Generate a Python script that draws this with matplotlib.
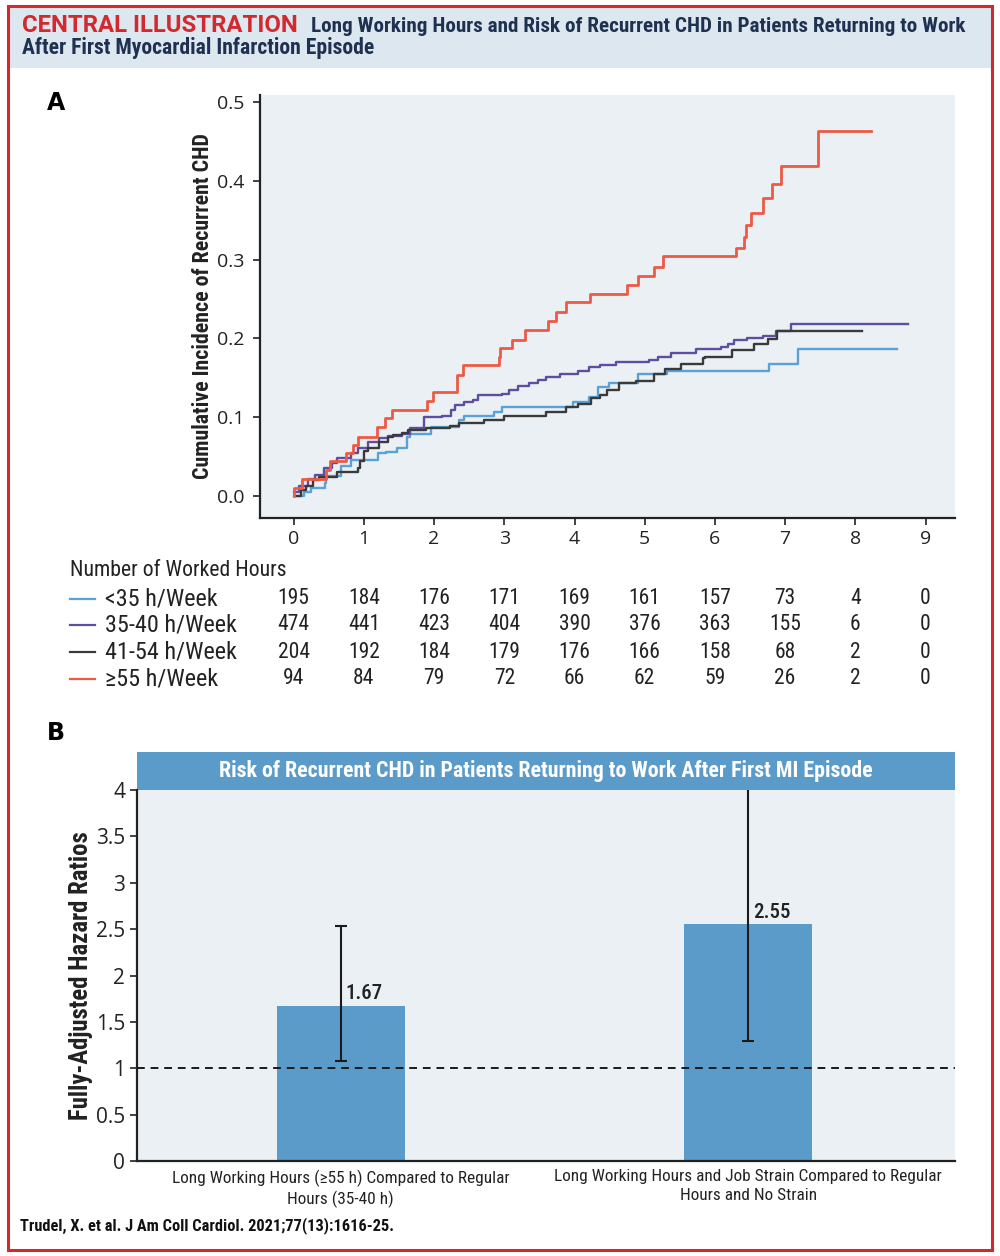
import numpy as np
import matplotlib
matplotlib.use("Agg")
import matplotlib.pyplot as plt
from matplotlib import font_manager
from matplotlib.patches import Rectangle
from matplotlib.lines import Line2D
from matplotlib.transforms import blended_transform_factory

# pick a narrow family if one is installed, Roboto otherwise
installed = {f.name for f in font_manager.fontManager.ttflist}
narrow_names = ['Liberation Sans Narrow', 'Roboto Condensed', 'Open Sans Condensed',
                'Noto Sans Condensed', 'DejaVu Sans Condensed']
narrow_names += sorted(n for n in installed if 'Condensed' in n or 'Narrow' in n)
narrow = next((n for n in narrow_names if n in installed), 'Roboto')
plt.rcParams['font.family'] = [narrow, 'DejaVu Sans']

# ---- data, panel A ----
t_lt35 = [0.0, 0.14, 0.24, 0.44, 0.46, 0.68, 0.81, 1.20, 1.32, 1.47, 1.62, 1.66, 1.95,
          2.36, 2.43, 2.86, 2.97, 3.98, 4.21, 4.33, 4.49, 4.90, 5.32, 6.77, 7.19]
v_lt35 = [0.0, 0.005, 0.010, 0.017, 0.025, 0.038, 0.046, 0.054, 0.056, 0.061, 0.075, 0.079, 0.088,
          0.096, 0.102, 0.107, 0.113, 0.119, 0.125, 0.138, 0.144, 0.155, 0.159, 0.168, 0.186]
end_lt35 = 8.59

t_35_40 = [0.0, 0.08, 0.20, 0.30, 0.43, 0.55, 0.62, 0.81, 0.91, 1.06, 1.22, 1.35, 1.54, 1.66,
           1.86, 2.11, 2.24, 2.30, 2.43, 2.55, 2.62, 2.97, 3.06, 3.19, 3.35, 3.48, 3.60, 3.79,
           4.05, 4.21, 4.36, 4.59, 5.06, 5.19, 5.38, 5.73, 6.08, 6.18, 6.27, 6.46, 6.68, 6.87, 7.08]
v_35_40 = [0.005, 0.013, 0.021, 0.027, 0.036, 0.042, 0.048, 0.054, 0.061, 0.069, 0.073, 0.076, 0.079, 0.086,
           0.100, 0.102, 0.109, 0.115, 0.119, 0.122, 0.128, 0.130, 0.135, 0.140, 0.144, 0.147, 0.151, 0.155,
           0.159, 0.164, 0.166, 0.170, 0.172, 0.177, 0.181, 0.186, 0.189, 0.193, 0.198, 0.200, 0.203, 0.210, 0.218]
end_35_40 = 8.75

t_41_54 = [0.04, 0.11, 0.17, 0.27, 0.36, 0.62, 0.91, 0.95, 1.00, 1.06, 1.22, 1.35, 1.41, 1.54, 1.63,
           1.89, 2.22, 2.36, 2.71, 3.00, 3.60, 3.88, 4.05, 4.24, 4.36, 4.46, 4.64, 4.87, 5.13, 5.29,
           5.51, 5.83, 5.86, 6.24, 6.56, 6.75, 6.89]
v_41_54 = [0.0, 0.007, 0.013, 0.020, 0.024, 0.030, 0.036, 0.044, 0.057, 0.061, 0.069, 0.075, 0.077, 0.080, 0.084,
           0.086, 0.089, 0.093, 0.097, 0.102, 0.107, 0.113, 0.117, 0.124, 0.128, 0.134, 0.143, 0.146, 0.155, 0.161,
           0.168, 0.175, 0.177, 0.185, 0.193, 0.199, 0.210]
end_41_54 = 8.09

t_ge55 = [0.0, 0.01, 0.12, 0.46, 0.52, 0.74, 0.85, 0.91, 1.19, 1.30, 1.40, 1.90, 1.98, 2.32, 2.41,
          2.92, 2.94, 3.11, 3.30, 3.62, 3.73, 3.88, 4.22, 4.75, 4.90, 5.13, 5.26, 6.30, 6.42, 6.44,
          6.52, 6.68, 6.81, 6.94, 7.47]
v_ge55 = [0.0, 0.010, 0.022, 0.033, 0.044, 0.054, 0.065, 0.075, 0.088, 0.099, 0.109, 0.120, 0.132, 0.154, 0.166,
          0.177, 0.188, 0.198, 0.211, 0.222, 0.234, 0.246, 0.256, 0.268, 0.279, 0.291, 0.304, 0.315, 0.329, 0.344,
          0.359, 0.378, 0.396, 0.419, 0.463]
end_ge55 = 8.22

group_labels = ['<35 h/Week', '35-40 h/Week', '41-54 h/Week', '\u226555 h/Week']
group_colors = ['#5aa2d6', '#5e4f9e', '#3a3a3a', '#ec5a45']
at_risk = [
    [195, 184, 176, 171, 169, 161, 157, 73, 4, 0],
    [474, 441, 423, 404, 390, 376, 363, 155, 6, 0],
    [204, 192, 184, 179, 176, 166, 158, 68, 2, 0],
    [94, 84, 79, 72, 66, 62, 59, 26, 2, 0],
]
years = list(range(10))

# ---- data, panel B ----
comparisons = ['Long Working Hours (\u226555 h) Compared to Regular\nHours (35-40 h)',
               'Long Working Hours and Job Strain Compared to Regular\nHours and No Strain']
hr = np.array([1.67, 2.55])
ci_low = np.array([1.08, 1.29])
ci_high = np.array([2.53, 5.03])

navy = '#1f3150'
red = '#d2282e'
ink = '#222222'
panel_bg = '#ebf0f5'
bar_blue = '#5b9bc9'

fig = plt.figure(figsize=(10, 12.56), dpi=100)
renderer = fig.canvas.get_renderer()
to_fit = []  # (text, target width in px)

# header band and border
fig.patches.append(Rectangle((0.008, 1 - 68 / 1256), 0.984, 62 / 1256, transform=fig.transFigure,
                             facecolor='#dde7f0', edgecolor='none', zorder=0))
fig.patches.append(Rectangle((0.008, 6 / 1256), 0.984, 1244 / 1256, transform=fig.transFigure,
                             facecolor='none', edgecolor=red, lw=2.2, zorder=5))

t = fig.text(0.022, 1 - 26 / 1256, 'CENTRAL ILLUSTRATION', color=red, fontsize=15,
             fontweight='bold', va='center', ha='left', family=['Roboto', 'DejaVu Sans'])
to_fit.append((t, 276))
t = fig.text(0.311, 1 - 26 / 1256, 'Long Working Hours and Risk of Recurrent CHD in Patients Returning to Work',
             color=navy, fontsize=14, fontweight='bold', va='center', ha='left')
to_fit.append((t, 658))
t = fig.text(0.022, 1 - 48 / 1256, 'After First Myocardial Infarction Episode',
             color=navy, fontsize=14, fontweight='bold', va='center', ha='left')
to_fit.append((t, 354))

# ---- panel A ----
fig.text(0.047, 1 - 103 / 1256, 'A', fontsize=17, fontweight='bold', va='center',
         family=['DejaVu Sans'])
ax = fig.add_axes([0.260, 1 - 518 / 1256, 0.695, 423 / 1256])
ax.set_facecolor(panel_bg)

series = [(t_lt35, v_lt35, end_lt35), (t_35_40, v_35_40, end_35_40),
          (t_41_54, v_41_54, end_41_54), (t_ge55, v_ge55, end_ge55)]
for (tt, v, end), c in zip(series, group_colors):
    lw = 2.0 if c == '#ec5a45' else 1.7
    ax.step(tt + [end], v + [v[-1]], where='post', color=c, lw=lw)

ax.set_xlim(-0.48, 9.42)
ax.set_ylim(-0.028, 0.509)
ax.set_xticks(years)
ax.set_yticks([0, 0.1, 0.2, 0.3, 0.4, 0.5])
ax.set_yticklabels(['0.0', '0.1', '0.2', '0.3', '0.4', '0.5'])
for s in ['top', 'right']:
    ax.spines[s].set_visible(False)
for s in ['left', 'bottom']:
    ax.spines[s].set_color(ink)
    ax.spines[s].set_linewidth(1.6)
ax.tick_params(axis='both', labelsize=14, length=5, width=1.2, color=ink, labelcolor=ink)
for lab in ax.get_xticklabels() + ax.get_yticklabels():
    lab.set_family(['Open Sans', 'DejaVu Sans'])
ax.tick_params(axis='y', pad=6)
ax.set_ylabel('Cumulative Incidence of Recurrent CHD', fontsize=14, fontweight='bold', color=ink)
ax.yaxis.set_label_coords(-0.066, 0.5)
to_fit.append((ax.yaxis.label, 348))

# number at risk table
tr = blended_transform_factory(ax.transData, fig.transFigure)
t = fig.text(0.070, 1 - 570 / 1256, 'Number of Worked Hours', fontsize=14, va='center', color=ink)
to_fit.append((t, 219))
row_y = [599, 625, 652, 679]
row_texts = []
for lab, c, counts, ry in zip(group_labels, group_colors, at_risk, row_y):
    yy = 1 - ry / 1256
    fig.lines.append(Line2D([0.070, 0.095], [yy, yy], transform=fig.transFigure, color=c, lw=1.6))
    row_texts.append(fig.text(0.105, yy, lab, fontsize=14, va='center', color=ink))
    for x, n in zip(years, counts):
        ax.text(x, yy, str(n), transform=tr, fontsize=15.5, ha='center', va='center', color=ink)

# ---- panel B ----
fig.text(0.047, 1 - 733 / 1256, 'B', fontsize=17, fontweight='bold', va='center',
         family=['DejaVu Sans'])
band = fig.add_axes([0.137, 1 - 790 / 1256, 0.818, 38 / 1256])
band.set_facecolor(bar_blue)
band.set_xticks([])
band.set_yticks([])
for s in band.spines.values():
    s.set_visible(False)
t = band.text(0.5, 0.5, 'Risk of Recurrent CHD in Patients Returning to Work After First MI Episode',
              transform=band.transAxes, ha='center', va='center', color='white', fontsize=14,
              fontweight='bold')
to_fit.append((t, 658))

bx = fig.add_axes([0.137, 1 - 1161 / 1256, 0.818, 371 / 1256])
bx.set_facecolor(panel_bg)
xpos = np.arange(len(hr))
bx.bar(xpos, hr, width=0.314, color=bar_blue, zorder=2)
bx.errorbar(xpos, hr, yerr=[hr - ci_low, ci_high - hr], fmt='none', ecolor='#1a1a1a',
            elinewidth=1.5, capsize=4, capthick=1.5, zorder=4)
bx.axhline(1.0, color='#1a1a1a', ls=(0, (4, 3)), lw=1.4, zorder=3)
for x, h in zip(xpos, hr):
    bx.text(x + 0.012, h + 0.03, f'{h:.2f}', ha='left', va='bottom', fontsize=15,
            fontweight='medium', color=ink, zorder=5)
bx.set_xlim(-0.5, 1.507)
bx.set_ylim(0, 4)
bx.set_yticks([0, 0.5, 1, 1.5, 2, 2.5, 3, 3.5, 4])
bx.set_yticklabels(['0', '0.5', '1', '1.5', '2', '2.5', '3', '3.5', '4'])
bx.set_xticks(xpos)
bx.set_xticklabels(comparisons, fontsize=12, color=ink, linespacing=1.3)
for s in ['top', 'right']:
    bx.spines[s].set_visible(False)
for s in ['left', 'bottom']:
    bx.spines[s].set_color(ink)
    bx.spines[s].set_linewidth(1.6)
bx.tick_params(axis='y', labelsize=15, length=5, width=1.2, color=ink, labelcolor=ink)
for lab in bx.get_yticklabels():
    lab.set_family(['Open Sans', 'DejaVu Sans'])
bx.tick_params(axis='x', length=0, pad=6)
bx.set_ylabel('Fully-Adjusted Hazard Ratios', fontsize=14, fontweight='bold', color=ink)
bx.yaxis.set_label_coords(-0.054, 0.5)
to_fit.append((bx.yaxis.label, 290))

t = fig.text(0.020, 1 - 1226 / 1256, 'Trudel, X. et al. J Am Coll Cardiol. 2021;77(13):1616-25.',
             fontsize=12.5, fontweight='bold', va='center', color='#111111')
to_fit.append((t, 375))

# scale the long texts so that they take the width they have in the original
fig.canvas.draw()
for txt, target in to_fit:
    bb = txt.get_window_extent(renderer=renderer)
    w = max(bb.width, bb.height) if txt.get_rotation() else bb.width
    txt.set_fontsize(txt.get_fontsize() * target / w)

# one common size for the group labels, from the widest one
bb = row_texts[1].get_window_extent(renderer=renderer)
row_size = row_texts[1].get_fontsize() * 132 / bb.width
for txt in row_texts:
    txt.set_fontsize(row_size)

# the two category labels under panel B share one size
fig.canvas.draw()
sizes = []
for lab, target in zip(bx.get_xticklabels(), [338, 388]):
    bb = lab.get_window_extent(renderer=renderer)
    sizes.append(lab.get_fontsize() * target / bb.width)
for lab in bx.get_xticklabels():
    lab.set_fontsize(np.mean(sizes))

fig.savefig('out.png', dpi=100)
